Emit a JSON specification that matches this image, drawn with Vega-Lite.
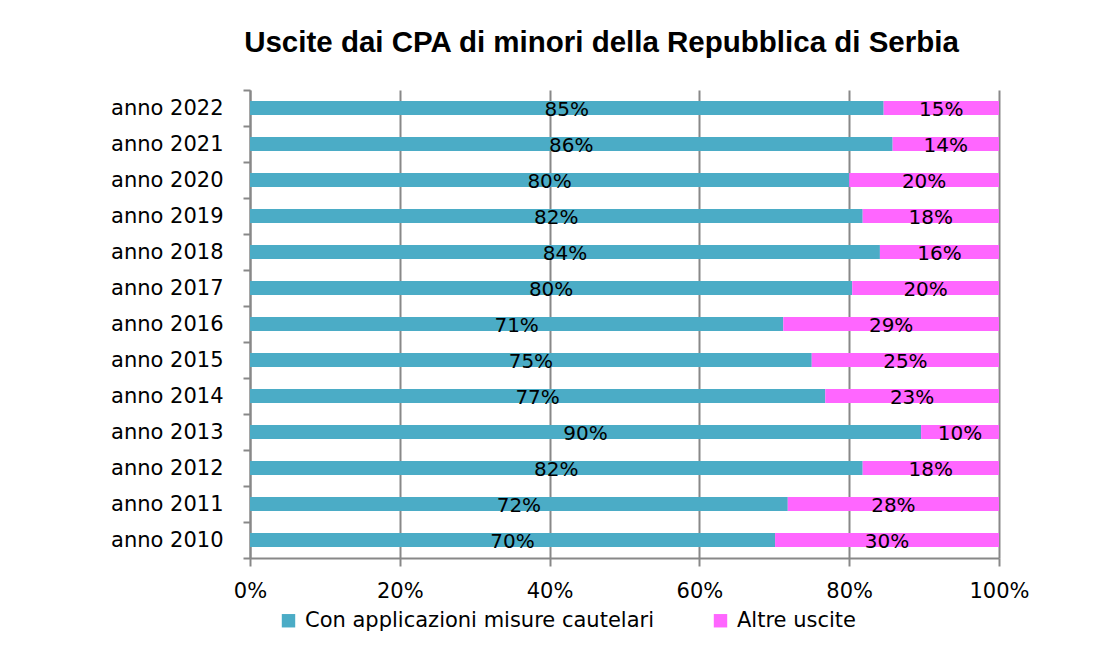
{
  "$schema": "https://vega.github.io/schema/vega-lite/v6.json",
  "autosize": {"type": "none"},
  "padding": {"left": 250, "top": 90, "right": 103, "bottom": 92},
  "width": 749,
  "height": 468,
  "background": "white",
  "title": {
    "text": "Uscite dai CPA di minori della Repubblica di Serbia",
    "font": "Liberation Sans",
    "fontSize": 29.5,
    "fontWeight": "bold",
    "color": "#000000",
    "anchor": "middle",
    "dx": -23,
    "offset": 21
  },
  "data": {
    "values": [
      {"anno": "anno 2022", "categoria": "Con applicazioni misure cautelari", "quota": 0.846},
      {"anno": "anno 2022", "categoria": "Altre uscite", "quota": 0.154},
      {"anno": "anno 2021", "categoria": "Con applicazioni misure cautelari", "quota": 0.858},
      {"anno": "anno 2021", "categoria": "Altre uscite", "quota": 0.142},
      {"anno": "anno 2020", "categoria": "Con applicazioni misure cautelari", "quota": 0.800},
      {"anno": "anno 2020", "categoria": "Altre uscite", "quota": 0.200},
      {"anno": "anno 2019", "categoria": "Con applicazioni misure cautelari", "quota": 0.818},
      {"anno": "anno 2019", "categoria": "Altre uscite", "quota": 0.182},
      {"anno": "anno 2018", "categoria": "Con applicazioni misure cautelari", "quota": 0.841},
      {"anno": "anno 2018", "categoria": "Altre uscite", "quota": 0.159},
      {"anno": "anno 2017", "categoria": "Con applicazioni misure cautelari", "quota": 0.804},
      {"anno": "anno 2017", "categoria": "Altre uscite", "quota": 0.196},
      {"anno": "anno 2016", "categoria": "Con applicazioni misure cautelari", "quota": 0.712},
      {"anno": "anno 2016", "categoria": "Altre uscite", "quota": 0.288},
      {"anno": "anno 2015", "categoria": "Con applicazioni misure cautelari", "quota": 0.750},
      {"anno": "anno 2015", "categoria": "Altre uscite", "quota": 0.250},
      {"anno": "anno 2014", "categoria": "Con applicazioni misure cautelari", "quota": 0.768},
      {"anno": "anno 2014", "categoria": "Altre uscite", "quota": 0.232},
      {"anno": "anno 2013", "categoria": "Con applicazioni misure cautelari", "quota": 0.896},
      {"anno": "anno 2013", "categoria": "Altre uscite", "quota": 0.104},
      {"anno": "anno 2012", "categoria": "Con applicazioni misure cautelari", "quota": 0.818},
      {"anno": "anno 2012", "categoria": "Altre uscite", "quota": 0.182},
      {"anno": "anno 2011", "categoria": "Con applicazioni misure cautelari", "quota": 0.718},
      {"anno": "anno 2011", "categoria": "Altre uscite", "quota": 0.282},
      {"anno": "anno 2010", "categoria": "Con applicazioni misure cautelari", "quota": 0.701},
      {"anno": "anno 2010", "categoria": "Altre uscite", "quota": 0.299}
    ]
  },
  "transform": [
    {
      "stack": "quota",
      "groupby": ["anno"],
      "sort": [{"field": "categoria", "order": "descending"}],
      "as": ["inizio", "fine"]
    },
    {"calculate": "(datum.inizio + datum.fine) / 2", "as": "centro"}
  ],
  "encoding": {
    "y": {
      "field": "anno",
      "type": "nominal",
      "sort": "descending",
      "title": null,
      "scale": {"paddingInner": 0, "paddingOuter": 0},
      "axis": {
        "labelFont": "DejaVu Sans",
        "labelFontSize": 21,
        "labelColor": "#000000",
        "labelPadding": 20,
        "tickBand": "extent",
        "tickSize": 7,
        "tickColor": "#888888",
        "tickWidth": 2,
        "domainColor": "#888888",
        "domainWidth": 2,
        "grid": false
      }
    }
  },
  "layer": [
    {
      "mark": {"type": "bar", "height": {"band": 0.39}},
      "encoding": {
        "x": {
          "field": "inizio",
          "type": "quantitative",
          "title": null,
          "scale": {"domain": [0, 1], "nice": false},
          "axis": {
            "format": ".0%",
            "values": [0, 0.2, 0.4, 0.6, 0.8, 1],
            "labelFont": "DejaVu Sans",
            "labelFontSize": 21,
            "labelColor": "#000000",
            "labelPadding": 14,
            "labelFlush": false,
            "tickSize": 8,
            "tickColor": "#888888",
            "tickWidth": 2,
            "domainColor": "#888888",
            "domainWidth": 2,
            "grid": true,
            "gridColor": "#888888",
            "gridWidth": 2
          }
        },
        "x2": {"field": "fine"},
        "color": {
          "field": "categoria",
          "type": "nominal",
          "scale": {
            "domain": ["Con applicazioni misure cautelari", "Altre uscite"],
            "range": ["#4BACC6", "#FF66FF"]
          },
          "legend": {
            "title": null,
            "orient": "none",
            "legendX": 28,
            "legendY": 520,
            "direction": "horizontal",
            "symbolType": "square",
            "symbolSize": 180,
            "symbolStrokeWidth": 0,
            "labelFont": "DejaVu Sans",
            "labelFontSize": 21,
            "labelColor": "#000000",
            "labelLimit": 0,
            "columnPadding": 56,
            "labelOffset": 6
          }
        }
      }
    },
    {
      "mark": {
        "type": "text",
        "font": "DejaVu Sans",
        "fontSize": 20,
        "color": "#000000",
        "dy": 2
      },
      "encoding": {
        "x": {"field": "centro", "type": "quantitative"},
        "text": {"field": "quota", "type": "quantitative", "format": ".0%"}
      }
    }
  ],
  "config": {
    "view": {"stroke": null}
  }
}
